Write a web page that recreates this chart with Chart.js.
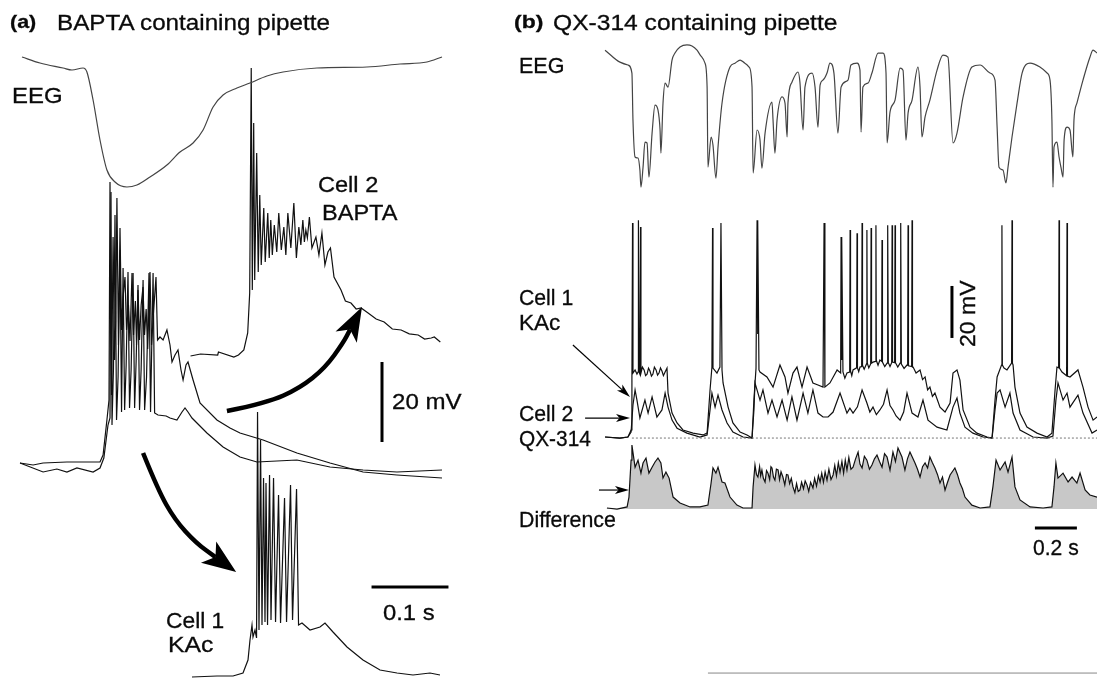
<!DOCTYPE html>
<html>
<head>
<meta charset="utf-8">
<script src="https://cdn.jsdelivr.net/npm/chart.js@4.4.1/dist/chart.umd.min.js"></script>
<style>
  body { margin: 0; background: #fff; }
  #wrap { position: relative; width: 1097px; height: 678px; overflow: hidden; }
  canvas { position: absolute; top: 0; }
  .lbl { position: absolute; font-family: 'Liberation Sans', Arial, Helvetica, sans-serif; line-height: 1;
         white-space: nowrap; color: #0a0a0a; transform-origin: left top; font-size: 22px;
         -webkit-text-stroke: 0.3px #0a0a0a; }
  .b { font-weight: bold; font-size: 19px; }
</style>
</head>
<body>
<div id="wrap">
  <canvas id="chartA" width="480" height="678" style="left:0"></canvas>
  <canvas id="chartB" width="597" height="678" style="left:500px"></canvas>

  <span class="lbl b" style="left:10px;top:12px" data-w="26">(a)</span>
  <span class="lbl" style="left:57px;top:12px" data-w="273">BAPTA containing pipette</span>
  <span class="lbl" style="left:12px;top:85px" data-w="50">EEG</span>
  <span class="lbl" style="left:318px;top:174px" data-w="60">Cell 2</span>
  <span class="lbl" style="left:322px;top:202px" data-w="76">BAPTA</span>
  <span class="lbl" style="left:392px;top:391px" data-w="70">20 mV</span>
  <span class="lbl" style="left:383px;top:602px" data-w="52">0.1 s</span>
  <span class="lbl" style="left:166px;top:610px" data-w="58">Cell 1</span>
  <span class="lbl" style="left:168px;top:634px" data-w="45">KAc</span>

  <span class="lbl b" style="left:514px;top:12px" data-w="29">(b)</span>
  <span class="lbl" style="left:553px;top:12px" data-w="284">QX-314 containing pipette</span>
  <span class="lbl" style="left:519px;top:55px" data-w="45">EEG</span>
  <span class="lbl" style="left:519px;top:287px" data-w="54">Cell 1</span>
  <span class="lbl" style="left:519px;top:312px" data-w="41">KAc</span>
  <span class="lbl" style="left:519px;top:403px" data-w="54">Cell 2</span>
  <span class="lbl" style="left:519px;top:428px" data-w="72">QX-314</span>
  <span class="lbl" style="left:519px;top:509px" data-w="97">Difference</span>
  <span class="lbl" style="left:1033px;top:537px" data-w="46">0.2 s</span>
  <span class="lbl" data-rot="1" style="left:957px;top:347px" data-w="67">20 mV</span>
</div>

<script>
// ---------- panel (a): time in ms, membrane potential in mV ----------
const eegA = [[2.6,102],[26,100.5],[56,99.25],[67.6,98.75],[82,99.25],[87,98.25],[95,91.25],[104,81.25],
  [113,73.75],[123.5,70.75],[139,69.5],[152,70],[169,72],[191,75],[208,78.25],[225,80.5],[238,83.75],
  [251,89.5],[264,92.5],[282,94.25],[299,95.5],[321,97.25],[342,98.25],[386,99.25],[451,99.5],
  [494,100.25],[529,100.75],[548.6,102]];

const baptaA = [[0,0.5],[17,0],[30,0.5],[61,0.75],[104,0.75],[108,2.5],[113,11.25],[115.7,16.25],
  [117,70.75],[119,17.5],[121,57],[123,26.25],[124.5,36],[126,66.75],[128,30],[130,59.25],[132,33.75],
  [134,42],[136.5,47],[138.5,33.75],[141,40],[143,31],[145.6,48],[147.6,32.5],[150,41],[151.5,30],
  [153.4,43.75],[155.4,31.25],[157.5,40],[159.9,44.5],[161.9,32.5],[164,39],[166,29],[169,48.25],
  [171,30],[173.5,38],[176.8,47],[178.8,31.25],[182,32],[186,31.25],[191,33.75],
  [195,30],[197.6,25.75],[201.5,27.5],[205.4,28.75],[209.3,23.75],[212,21.25],[215.8,25],
  [218.4,25.75],[225,21.25],[234,15.5],[256,11.25],[273,9.25],[286,8],[316,6.25],[360,3],
  [403,0.5],[446,-1.75],[490,-2.5],[548.6,-3.25]];

const kacA = [[0,0.5],[30,-1.75],[48,-1],[61,-1.75],[74,-0.75],[95,-1.75],[104,-0.75],[109,1.75],
  [114.4,10],[117,11.75],[118.3,68.25],[119.6,10],[121.5,24],[123.5,62.5],[125.5,11.25],[127.5,22],
  [130,53.75],[132,13.25],[134,49.25],[136,13.75],[138,25],[140.4,48.25],[142.4,14.25],[144.5,24],
  [147,48],[149,14.25],[151,26],[153.4,45],[155.4,13.75],[157.5,24],[160,46.25],[162,13.75],[164.5,22],
  [167.7,48],[169.7,13.25],[173,48],[175,13],[179.4,12.5],[190,12.25],
  [195,11.75],[204,11.25],[210.6,13.25],[214.5,14.25],[218.4,13.25],[223.6,11.75],[243,8],[264,4.5],
  [286,2],[308,0.75],[360,1.25],[403,-0.5],[446,-1.25],[490,-1.75],[548.6,-1.25]];

const baptaShiftA = [[221.7,27.25],[234.7,27.75],[257,27.5],[258,28.25],[278,27],[284,27.5],[291,28.75],
  [296,33],[298.6,43],[300.6,99.25],[302,43.75],[303.8,85.5],[305.1,46.25],[307.7,78],[309.7,48.25],
  [311.7,67.5],[313.6,50],[316.9,64.25],[318.8,50.75],[322.1,63],[324,51.75],[326,61.25],[328,52.5],
  [330.6,60],[333.8,53.25],[336.4,63],[339.7,53.75],[343,59.5],[345.6,52.5],[348.2,63],[352.1,54.25],
  [356,65.5],[359.3,51.75],[362.5,59.5],[365.1,55],[367.7,61.25],[369.7,55.75],[371.6,58.75],
  [373.6,56.75],[376.2,62],[379.5,54.25],[384.7,57],[388.6,52.5],[392.5,58],[396.4,50],[400.3,53.25],
  [403.6,54.25],[408.2,47],[417.3,43.75],[423,41],[430.3,40.5],[437,39],[443.4,39.25],[452.5,38],
  [463,36.5],[473.4,35.75],[484,34],[495.5,33.75],[506,32.8],[517.7,32.5],[526,31.5],[534.6,31.75],
  [538.6,32],[546.4,30.75]];

const kacShiftA = [[223.6,-53],[256.1,-52.75],[276.9,-52.75],[289.9,-52],[296.4,-48.75],[299,-43.75],
  [301.6,-40],[302.9,-43],[305.5,-41.25],[307.5,-43.25],[308.8,13.25],[310.7,-41.25],[312.7,6.25],
  [314.6,-40],[316.6,-3.25],[318.5,-39.25],[319.8,-4.5],[321.8,-40],[324.4,-2.5],[326.3,-38.75],
  [329.6,-3.25],[332.2,-39.25],[336.1,-7.5],[338.7,-39.5],[343.9,-8.25],[346.5,-39.25],[351.7,-5],
  [354.3,-38.75],[359.5,-6],[362.1,-40],[366.6,-39.5],[377,-41.25],[390,-40.5],[396.5,-39.5],
  [406.9,-41.75],[425.1,-45.5],[445.9,-48.75],[468,-51.25],[490.1,-52],[510.9,-52.5],[533,-52],[546,-52.5]];

// ---------- panel (b): time in ms, mV ----------
const eegB = [[24,149.2],[95,144.6],[133,143.5],[152,140.4],[157,122.3],[167,108.1],[181,107.7],[190,103.1],
  [195,96.5],[205,104.2],[214,113.8],[224,113.5],[233,100.4],[248,117.3],[262,128.1],[276,126.2],[286,118.5],
  [290,109.6],[300,128.8],[310,136.5],[324,135],[343,145.4],[357,148.1],[381,150.4],[414,151.2],[438,150.8],
  [462,149.2],[481,146.9],[500,144.2],
  [510,135],[514,104.2],[529,115.8],[538,112.7],[552,100],[562,111.9],[581,128.8],[619,142.7],[643,144.2],
  [667,145.4],[690,144.2],
  [710,142.7],[724,135],[729,101.9],[748,118.5],[762,114.6],[771,103.8],[786,117.3],[819,129.2],[824,122.3],
  [833,109.6],[843,122.3],[867,131.2],[881,128.8],[891,115.8],[895,128.8],[914,136.9],[943,140.8],[952,136.9],
  [967,118.5],[976,135],[1010,140.4],[1024,135],[1038,119.6],[1048,135.8],[1062,137.7],[1081,140.4],
  [1095,144.2],[1114,140.4],[1133,117.3],[1148,135],[1181,137.7],[1195,143.5],[1224,144.2],[1238,141.5],
  [1243,117.7],[1252,135],[1276,136.5],[1295,140.4],[1324,148.1],[1348,148.1],[1362,140.4],[1367,113.5],
  [1381,125.4],[1405,130],[1429,142.3],[1443,141.5],[1457,114.6],[1467,125],[1486,130],[1514,142.7],
  [1524,135],[1533,115.8],[1548,123.5],[1571,130],[1605,141.5],[1633,147.3],[1657,146.5],[1681,113.5],
  [1700,117.3],[1729,131.2],[1771,142.7],[1810,143.5],[1857,140.4],[1881,137.7],[1891,119.6],[1900,104.2],
  [1919,103.1],[1933,98.1],[1943,104.2],[1962,115.8],[1986,128.8],[2010,140.4],[2048,144.2],[2095,142.7],
  [2129,140.4],[2143,137.7],[2152,122.3],[2157,96.5],[2162,111.9],[2176,113.8],[2186,108.1],[2195,104.2],
  [2205,100.4],[2210,114.6],[2224,119.6],[2238,118.5],[2252,108.1],[2257,122.3],[2271,128.8],[2300,137.7],
  [2333,146.5],[2348,149.2],[2367,148.1]];

const cell1B = [[24,0.4],[95,0],[133,0.4],[148,3.1],[152,22.3],[155,82.7],[157,25],[167,26.2],[176,24.6],
  [181,25.4],[183,83.8],[186,25.4],[190,24.6],[193,81.2],[195,25],[202,27.3],[210,26.2],[217,24],[224,24.6],
  [231,26.9],[238,25.8],[245,23.8],[252,24.6],[259,27.3],[267,26.2],[274,24.2],[281,25],[288,27],[295,25.8],
  [302,24],[310,25.4],[319,26.9],[324,17.3],[343,9.6],[367,5.8],[395,3.1],[443,1.9],
  [490,1.2],[510,1.9],[524,18.5],[533,27.3],[536,80.8],[538,26.9],[557,25],[571,27.3],[576,82.7],[581,26.2],
  [586,21.2],[610,11.9],[633,5.8],[667,2.3],[700,1.2],[724,0],[733,14.6],[743,26.9],[748,83.8],[750,40],
  [752,83.8],[757,26.2],[762,25.4],[795,23.5],[824,19.6],[857,28.1],[881,23.5],[895,17.3],[919,25],
  [938,27.3],[962,19.6],[986,27.3],[1014,21.2],[1038,20.4],[1062,19.6],[1067,82.7],[1071,19.6],[1095,21.2],
  [1129,26.2],[1146,25],[1148,77.3],[1150,30],[1152,77.3],[1157,25.4],[1166,23],[1176,25],[1189,25.4],[1191,80],
  [1193,25.8],[1199,24],[1205,26.2],[1222,27],[1224,78.8],[1226,27],[1232,25.5],[1238,27.3],[1246,27.5],[1248,82.7],[1250,28],
  [1258,26.5],[1269,28.5],[1271,80],[1273,28.8],[1280,27],[1289,28.5],[1291,80.8],[1293,28.8],[1300,29.2],[1312,29.5],[1314,81.9],
  [1316,29.8],[1324,28],[1333,30],[1341,29.5],[1343,76.2],[1345,29.2],[1356,27.5],[1367,28.8],[1369,29],[1371,81.9],[1373,29],
  [1381,27.5],[1389,29],[1391,81.9],[1393,29.2],[1403,29],[1405,81.9],[1407,29],[1418,27.3],[1429,28.8],[1431,28.8],[1433,82.7],
  [1435,28.5],[1448,26.8],[1462,28.1],[1465,28],[1467,81.9],[1469,27.8],[1484,27.5],[1486,83.8],[1488,27.3],[1491,27.3],
  [1505,25],[1524,26.2],[1536,22.5],[1548,23.5],[1560,18.5],[1571,19.6],[1583,16],[1595,17.3],[1619,11.9],[1643,10],[1667,13.5],[1681,25],[1700,26.2],
  [1714,22.3],[1729,10.8],[1762,4.2],[1795,1.9],[1843,0.4],[1867,0],[1881,14.6],[1891,23.5],[1912,28.1],
  [1914,81.9],[1916,28.1],[1924,26.9],[1938,26.2],[1960,28.8],[1962,83.8],[1964,28.8],[1967,28.1],[1976,19.6],
  [2000,9.6],[2033,4.2],[2081,1.9],[2129,0.4],[2152,1.9],[2167,18.5],[2176,27.3],[2184,27],[2186,83.8],
  [2188,26.9],[2200,25.4],[2222,24],[2224,82.7],[2226,23.8],[2238,23.5],[2276,26.2],[2300,19.6],[2324,11.9],
  [2348,6.9],[2367,8.1]];

const cell2B = [[24,0.4],[95,0],[133,0.4],[148,2.3],[157,12.7],[167,18.5],[176,14.6],[190,7.7],[214,14.6],
  [229,9.6],[248,15.8],[271,8.1],[295,10.8],[310,17.3],[324,11.9],[343,6.9],[367,3.8],[414,1.9],[476,0.4],
  [510,1.2],[524,10.8],[533,17.3],[548,11.9],[562,16.5],[581,10.8],[605,5.8],[633,2.3],[681,0.4],[724,0],
  [733,10.8],[738,21.2],[762,14.6],[776,18.5],[800,9.6],[819,14.6],[843,8.1],[867,14.6],[891,6.9],[914,15.8],
  [938,6.9],[967,17.3],[990,9.6],[1014,18.5],[1038,9.6],[1062,8.1],[1086,8.1],[1110,10],[1143,17.3],
  [1176,9.6],[1190,11.5],[1205,9.6],[1226,12],[1248,18.5],[1271,13.5],[1285,10],[1300,11.9],[1316,9],
  [1333,10.8],[1350,13],[1367,18.5],[1381,12.5],[1395,10.8],[1410,8.5],[1429,6.9],[1446,10],
  [1462,17.3],[1486,9.6],[1514,8.1],[1538,14.6],[1562,6.9],[1605,4.2],[1652,3.1],[1681,11.9],[1700,15.4],
  [1714,9.6],[1738,4.2],[1776,1.9],[1824,0.4],[1867,0],[1881,10.8],[1891,17.3],[1905,18.5],[1929,11.9],
  [1952,17.3],[1967,9.6],[2000,3.1],[2062,0.4],[2129,0],[2157,0.8],[2171,14.6],[2181,21.2],[2205,14.6],
  [2224,17.3],[2238,11.9],[2276,16.5],[2300,9.6],[2343,1.9],[2367,3.1]];

const diffB = [[33,-26.9],[81,-27.3],[129,-26.5],[138,-22.7],[148,-8.5],[152,-2.7],[167,-11.2],[181,-8.5],
  [195,-13.5],[205,-9.6],[219,-7.7],[233,-13.5],[248,-11.2],[262,-9.2],[276,-7.7],[290,-9.6],[300,-15.4],
  [314,-13.1],[329,-15.4],[348,-22.7],[381,-25],[429,-26.5],[476,-26.5],[514,-25.8],[529,-17.3],[538,-11.5],
  [552,-13.5],[562,-11.2],[581,-16.9],[595,-17.3],[619,-22.7],[652,-25.8],[681,-26.9],[724,-26.9],[729,-18.8],
  [738,-10.4],[745,-14],[752,-15],[760,-11],[765,-14.5],[771,-12.3],[778,-15.5],[786,-16.9],[793,-12.5],
  [800,-13.5],[808,-16],[814,-11],[819,-11.5],[826,-15],[833,-16.2],[840,-12],[848,-12.3],[855,-16],
  [862,-13],[871,-15],[880,-18],[888,-14],[895,-14.2],[903,-17.5],[911,-15.5],[919,-18.8],[928,-21],
  [936,-17.5],[944,-20.5],[952,-20],[960,-17],[969,-19.5],[977,-16.5],[986,-18.1],[994,-20.5],[1003,-17],
  [1014,-19.2],[1022,-15.5],[1031,-18.5],[1040,-14.5],[1048,-16.9],[1056,-13.5],[1064,-17],[1072,-13],
  [1081,-16.2],[1090,-12],[1100,-16],[1110,-14.2],[1118,-10.5],[1126,-14.5],[1135,-9.5],[1143,-13.1],
  [1152,-9],[1160,-13.5],[1168,-8.5],[1176,-12.3],[1185,-7.5],[1195,-12],[1205,-11.2],[1217,-8],
  [1229,-5.4],[1238,-10],[1248,-11.5],[1259,-7],[1271,-8.5],[1283,-12],[1295,-10.4],[1307,-8],[1319,-6.5],
  [1331,-9],[1343,-11.2],[1355,-6],[1367,-7.3],[1381,-12.3],[1395,-5.4],[1407,-9],[1419,-3.8],[1438,-7.3],
  [1452,-12.3],[1464,-8],[1476,-5.4],[1488,-7.5],[1500,-9.6],[1512,-12],[1524,-15],[1536,-11],[1548,-9.6],
  [1560,-11.5],[1571,-7.3],[1583,-9.5],[1595,-11.5],[1607,-14],[1619,-17.3],[1631,-15],[1643,-20],
  [1655,-17],[1667,-14.2],[1690,-11.5],[1702,-14],[1714,-17.3],[1726,-19.5],[1738,-22.7],[1771,-25.8],
  [1810,-26.9],[1857,-26.5],[1871,-18.8],[1886,-8.5],[1905,-12.3],[1929,-9.2],[1943,-13.1],[1962,-7.3],
  [1976,-18.8],[2000,-23.8],[2048,-26.5],[2110,-26.9],[2152,-26.5],[2162,-18.8],[2171,-9.6],[2181,-15.4],
  [2205,-13.5],[2229,-16.9],[2248,-15],[2271,-17.3],[2286,-13.5],[2310,-20],[2333,-21.9],[2367,-22.7]];

// scale bars, reference lines and arrows (data units)
const barA_mV = [[470.6,5.75],[470.6,25.75]];
const barA_s = [[457,-30.5],[557,-30.5]];
const barB_mV = [[1676,38.5],[1676,58.5]];
const barB_s = [[2071,-34.6],[2271,-34.6]];
const zeroB = [[152,0],[2367,0]];
const diffBase = -27.3;
const ruleB = [[514,-90.4],[2367,-90.4]];

const arrowsA = [
  { path: [[269,13.5],[321,15.5],[364,19.25],[396.5,24.25],[420,30.5],[444.6,39.5]], width: 4.5, head: 34, headW: 12 },
  { path: [[160,3],[179.4,-6.25],[201.5,-13.75],[228.8,-19.5],[281,-26.75]], width: 4.5, head: 34, headW: 13 }
];
const arrowsB = [
  { path: [[-129,35.8],[143,15.8]], width: 1.2, head: 14, headW: 4 },
  { path: [[-71,7.7],[143,7.7]], width: 1.2, head: 14, headW: 4 },
  { path: [[-5,-20],[138,-20]], width: 1.2, head: 14, headW: 4 }
];

const xy = arr => arr.map(p => ({ x: p[0], y: p[1] }));

function trace(arr, color, width, extra) {
  return Object.assign({
    data: xy(arr), borderColor: color, borderWidth: width, pointRadius: 0,
    tension: 0, fill: false, spanGaps: true
  }, extra || {});
}

const arrowPlugin = {
  id: 'arrows',
  afterDatasetsDraw(chart, args, opts) {
    const { ctx, scales: { x, y } } = chart;
    (opts.items || []).forEach(a => {
      const p = a.path.map(q => [x.getPixelForValue(q[0]), y.getPixelForValue(q[1])]);
      const tip = p[p.length - 1];
      const prev = p[p.length - 2];
      const ang = Math.atan2(tip[1] - prev[1], tip[0] - prev[0]);
      const L = a.head, W = a.headW;
      const neck = [tip[0] - 0.75 * L * Math.cos(ang), tip[1] - 0.75 * L * Math.sin(ang)];
      ctx.save();
      ctx.strokeStyle = '#000';
      ctx.fillStyle = '#000';
      ctx.lineWidth = a.width;
      ctx.lineJoin = 'round';
      ctx.beginPath();
      ctx.moveTo(p[0][0], p[0][1]);
      const body = p.slice(0, -1).concat([neck]);
      for (let i = 1; i < body.length - 1; i++) {
        const mx = (body[i][0] + body[i + 1][0]) / 2, my = (body[i][1] + body[i + 1][1]) / 2;
        ctx.quadraticCurveTo(body[i][0], body[i][1], mx, my);
      }
      ctx.lineTo(neck[0], neck[1]);
      ctx.stroke();
      ctx.beginPath();
      ctx.moveTo(tip[0], tip[1]);
      ctx.lineTo(tip[0] - L * Math.cos(ang) + W * Math.sin(ang), tip[1] - L * Math.sin(ang) - W * Math.cos(ang));
      ctx.lineTo(neck[0], neck[1]);
      ctx.lineTo(tip[0] - L * Math.cos(ang) - W * Math.sin(ang), tip[1] - L * Math.sin(ang) + W * Math.cos(ang));
      ctx.closePath();
      ctx.fill();
      ctx.restore();
    });
  }
};

function baseOptions(xmin, xmax, ymin, ymax, arrows) {
  return {
    responsive: false,
    devicePixelRatio: 1,
    animation: false,
    layout: { padding: 0 },
    scales: {
      x: { type: 'linear', min: xmin, max: xmax, display: false },
      y: { type: 'linear', min: ymin, max: ymax, display: false }
    },
    plugins: { legend: { display: false }, tooltip: { enabled: false }, arrows: { items: arrows } }
  };
}

const traceCol = '#111';
const smooth = { cubicInterpolationMode: 'monotone' };

new Chart(document.getElementById('chartA'), {
  type: 'line',
  data: {
    datasets: [
      trace(eegA, '#444', 1.2, smooth),
      trace(kacA, traceCol, 1.2),
      trace(baptaA, traceCol, 1.2),
      trace(baptaShiftA, traceCol, 1.2),
      trace(kacShiftA, traceCol, 1.2),
      trace(barA_mV, '#000', 3),
      trace(barA_s, '#000', 3)
    ]
  },
  options: baseOptions(-26, 598, -53.25, 116.25, arrowsA),
  plugins: [arrowPlugin]
});

new Chart(document.getElementById('chartB'), {
  type: 'line',
  data: {
    datasets: [
      trace(diffB, traceCol, 1.2, { fill: { value: diffBase }, backgroundColor: '#c8c8c8' }),
      trace(zeroB, '#777', 1, { borderDash: [2, 2] }),
      trace(eegB, '#444', 1.2, smooth),
      trace(cell2B, traceCol, 1.2),
      trace(cell1B, traceCol, 1.2),
      trace(barB_mV, '#000', 3),
      trace(barB_s, '#000', 3),
      trace(ruleB, '#888', 1)
    ]
  },
  options: baseOptions(-476.2, 2366.7, -92.3, 168.5, arrowsB),
  plugins: [arrowPlugin]
});

// stretch the labels to the width they have in the figure
document.querySelectorAll('.lbl').forEach(el => {
  const w = +el.dataset.w;
  const s = w / el.offsetWidth;
  el.style.transform = (el.dataset.rot ? 'rotate(-90deg) ' : '') + 'scaleX(' + s.toFixed(3) + ')';
});
</script>
</body>
</html>
